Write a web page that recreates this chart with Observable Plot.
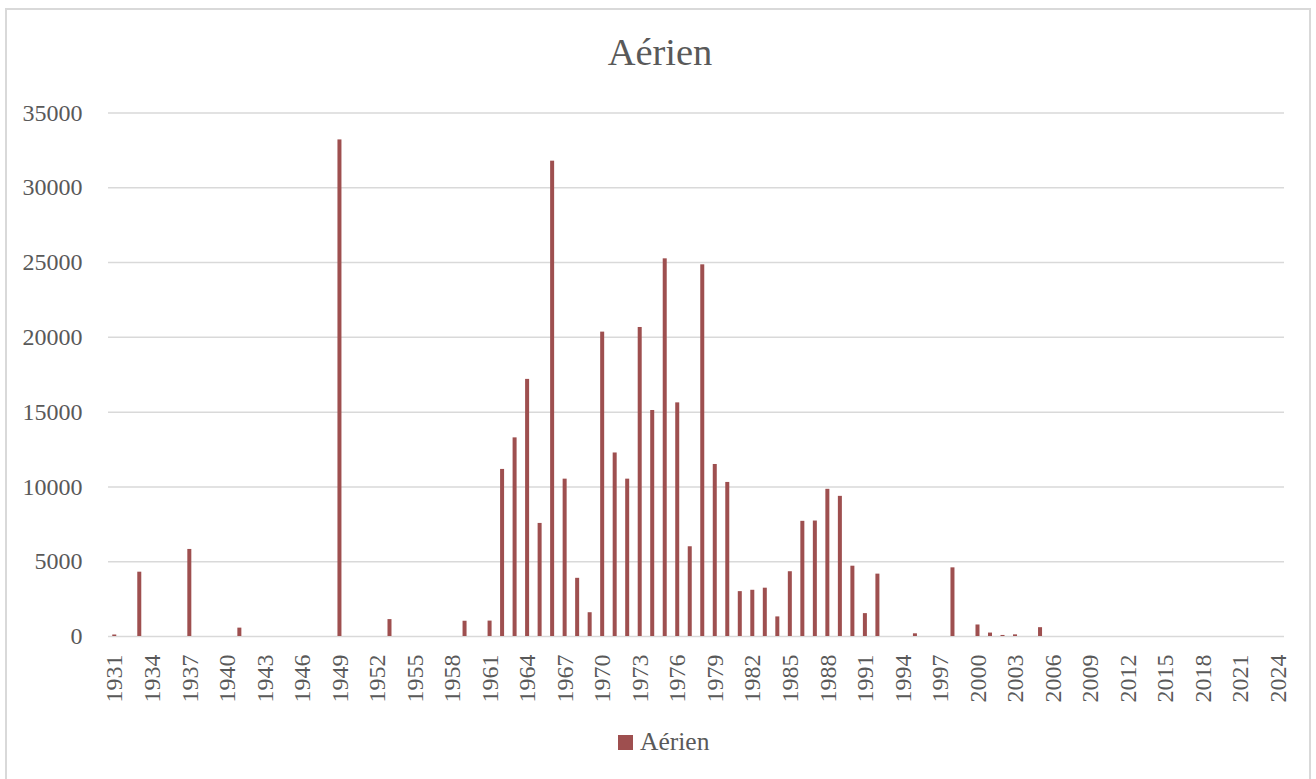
<!DOCTYPE html>
<html>
<head>
<meta charset="utf-8">
<script src="https://cdn.jsdelivr.net/npm/d3@7"></script>
<script src="https://cdn.jsdelivr.net/npm/@observablehq/plot@0.6"></script>
<style>
  html, body { margin: 0; padding: 0; background: #fff; }
  body { width: 1316px; height: 779px; position: relative; overflow: hidden; font-family: "Liberation Serif", serif; color: #595959; }
  #frame { position: absolute; left: 5px; top: 8px; width: 1306px; height: 800px; border: 2px solid #d9d9d9; box-sizing: border-box; }
  #title { position: absolute; left: 0; width: 1320px; top: 29px; text-align: center; font-size: 38.5px; line-height: 46px; }
  #chart { position: absolute; left: 0; top: 0; }
  #legend { position: absolute; left: 618px; top: 728px; font-size: 25.5px; line-height: 28px; display: flex; align-items: center; }
  #legend .sw { width: 15px; height: 15px; background: #9e4f4f; margin-right: 7px; display: inline-block; }
</style>
</head>
<body>
<div id="frame"></div>
<div id="title">Aérien</div>
<div id="chart"></div>
<div id="legend"><span class="sw"></span><span>Aérien</span></div>
<script>
// Categories: every year from 1931 to 2024
const years = d3.range(1931, 2025);
// Years with a non-zero value and their values
const dataYears = [1931, 1933, 1937, 1941, 1949, 1953, 1959, 1961, 1962, 1963, 1964, 1965, 1966, 1967, 1968, 1969, 1970, 1971, 1972, 1973, 1974, 1975, 1976, 1977, 1978, 1979, 1980, 1981, 1982, 1983, 1984, 1985, 1986, 1987, 1988, 1989, 1990, 1991, 1992, 1995, 1998, 2000, 2001, 2002, 2003, 2005];
const dataValues = [100, 4300, 5820, 560, 33200, 1130, 1020, 1030, 11170, 13280, 17190, 7560, 31780, 10520, 3890, 1590, 20350, 12270, 10520, 20660, 15110, 25250, 15620, 6000, 24850, 11500, 10300, 3000, 3090, 3230, 1310, 4330, 7700, 7720, 9840, 9370, 4700, 1530, 4170, 180, 4590, 770, 230, 70, 110, 590];
const yTicks = [0, 5000, 10000, 15000, 20000, 25000, 30000, 35000];
const xTicks = years.filter((y) => (y - 1931) % 3 === 0);
const seriesName = "Aérien";
const barColor = "#9e4f4f";

const valueByYear = new Map(dataYears.map((y, i) => [y, dataValues[i]]));
const rows = years.map((y) => ({year: y, value: valueByYear.get(y) ?? 0}));

const chart = Plot.plot({
  width: 1316,
  height: 720,
  marginLeft: 108,
  marginRight: 32,
  marginTop: 112.5,
  marginBottom: 84,
  style: {fontFamily: "'Liberation Serif', serif", fontSize: "24px", color: "#595959", background: "transparent"},
  x: {type: "band", domain: years, paddingInner: 0.68, paddingOuter: 0.34},
  y: {domain: [0, 35000]},
  marks: [
    Plot.ruleY(yTicks, {stroke: "#d9d9d9", strokeWidth: 1.5}),
    Plot.barY(rows, {x: "year", y: "value", fill: barColor}),
    Plot.axisY({ticks: yTicks, tickSize: 0, tickPadding: 26, tickFormat: (d) => String(d), label: null}),
    Plot.axisX({ticks: xTicks, tickSize: 0, tickPadding: 18, tickRotate: -90, tickFormat: (d) => String(d), label: null})
  ]
});
document.getElementById("chart").appendChild(chart);
</script>
</body>
</html>
